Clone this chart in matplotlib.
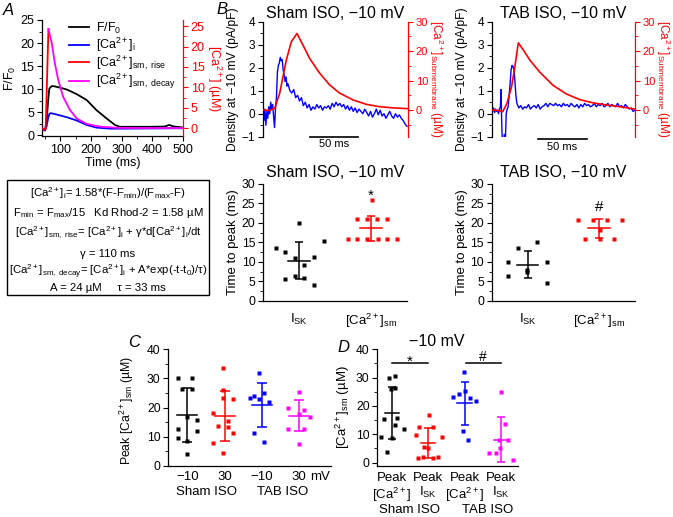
import matplotlib
matplotlib.use("Agg")
import matplotlib.pyplot as plt
from matplotlib.ticker import MultipleLocator
from matplotlib.patches import Rectangle

plt.rcParams['font.family'] = ['Liberation Sans', 'DejaVu Sans']
plt.rcParams['mathtext.fontset'] = 'custom'
plt.rcParams['mathtext.rm'] = 'Liberation Sans'
plt.rcParams['mathtext.it'] = 'Liberation Sans:italic'
plt.rcParams['mathtext.bf'] = 'Liberation Sans:bold'
plt.rcParams['axes.linewidth'] = 0.9
plt.rcParams['xtick.major.size'] = 3.5
plt.rcParams['ytick.major.size'] = 3.5
plt.rcParams['xtick.minor.size'] = 2
plt.rcParams['ytick.minor.size'] = 2
plt.rcParams['xtick.major.pad'] = 2
plt.rcParams['ytick.major.pad'] = 2

RED = '#ff0000'
BLUE = '#0000ff'
MAG = '#ff00ff'

# ---- panel A: F/F0 and derived [Ca2+] traces ----
a_t_ff0 = [40, 45, 50, 55, 60, 64, 72, 80, 93, 121, 153, 186, 218, 251, 278, 294, 338, 392, 440, 455, 468, 499]
a_ff0 = [1.46, 1.3, 1.1, 3.0, 7.5, 10.1, 10.65, 10.6, 10.4, 9.9, 8.9, 7.6, 5.4, 3.6, 2.2, 1.8, 1.8, 1.8, 1.85, 2.2, 1.9, 1.65]
a_t_cai = [40, 50, 55, 60, 64, 68, 80, 93, 121, 153, 186, 218, 262, 300, 400, 500]
a_cai = [0.0, -0.6, 0.5, 2.5, 3.5, 3.7, 3.5, 3.25, 2.7, 1.9, 0.8, 0.15, -0.1, -0.1, -0.05, 0.0]
a_t_rise = [40, 46, 49, 52, 61]
a_rise = [0.0, -0.2, -0.4, 0.0, 24.3]
a_t_decay = [61, 72, 82, 93, 109, 131, 153, 186, 229, 284, 350, 500]
a_decay = [24.3, 20.8, 15.9, 11.8, 7.7, 4.5, 2.4, 1.05, 0.4, 0.1, 0.05, 0.05]

box_lines = [
    '[Ca$^{2+}$]$_{\\rm i}$= 1.58*(F-F$_{\\rm min}$)/(F$_{\\rm max}$-F)',
    'F$_{\\rm min}$ = F$_{\\rm max}$/15   Kd Rhod-2 = 1.58 µM',
    '[Ca$^{2+}$]$_{\\rm sm,\\ rise}$= [Ca$^{2+}$]$_{\\rm i}$ + γ*d[Ca$^{2+}$]$_{\\rm i}$/dt',
    'γ = 110 ms',
    '[Ca$^{2+}$]$_{\\rm sm,\\ decay}$= [Ca$^{2+}$]$_{\\rm i}$ + A*exp(-t-t$_{\\rm 0}$)/τ)',
    'A = 24 µM     τ = 33 ms',
]

# ---- panel B: I_SK density (blue) and submembrane Ca (red) ----
sham_t_isk = [0, 1, 2, 3, 4, 5, 6, 7, 8, 9, 10, 11, 12, 13, 14, 15, 16, 17, 18, 19, 20, 21, 22, 23, 24, 25, 26,
              28, 30, 32, 34, 36, 38, 40, 42, 44, 46, 48, 50, 52, 54, 56, 58, 60, 62, 64, 66, 68, 70, 72, 74, 76,
              78, 80, 82, 84, 86, 88, 90, 92, 94, 96, 98, 100, 102, 104, 106, 108, 110, 112, 114, 116, 118, 120,
              122, 124, 126, 128, 130, 132, 134, 136, 138, 140, 142, 144, 146, 148, 150]
sham_isk = [0.1, -0.3, 0.2, -0.5, 0.1, -0.2, 0.3, 0.0, 0.5, 0.2, 0.4, -0.1, -0.6, 0.2, 0.7, 1.8, 2.1, 2.2, 2.45,
            2.3, 2.35, 1.9, 1.7, 1.4, 1.6, 1.2, 1.3, 1.0, 0.9, 1.05, 0.7, 0.8, 0.55, 0.7, 0.35, 0.5, 0.25, 0.4,
            0.15, 0.3, 0.2, 0.4, 0.25, 0.35, 0.15, 0.3, 0.25, 0.35, 0.2, 0.45, 0.3, 0.5, 0.35, 0.45, 0.3, 0.4,
            0.2, 0.35, 0.15, 0.3, 0.1, 0.25, 0.05, 0.2, 0.1, 0.0, 0.2, 0.05, -0.1, 0.1, -0.15, 0.0, 0.2, -0.05,
            0.15, -0.1, 0.0, -0.2, -0.05, 0.1, -0.1, -0.2, 0.0, -0.15, -0.05, -0.2, -0.3, -0.45, -0.55]
sham_t_ca = [0, 6.9, 12.2, 17.4, 24.3, 29.5, 35.4, 41.7, 48.6, 59, 69.4, 79.9, 93.8, 107.6, 121.5, 135.4, 150.3]
sham_ca = [0.0, -0.2, 0.6, 5.7, 17.0, 23.2, 26.0, 22.0, 17.5, 12.5, 8.5, 5.7, 3.4, 1.9, 1.1, 0.7, 0.45]

tab_t_isk = [0, 1, 2, 3, 4, 5, 6, 7, 8, 9, 9.6, 10.3, 11, 12, 13, 14, 15, 16, 17, 18, 19, 20, 21, 22, 23, 24, 25,
             26, 27, 28, 30, 32, 34, 36, 38, 40, 42, 44, 46, 48, 50, 52, 54, 56, 58, 60, 62, 64, 66, 68, 70, 72,
             74, 76, 78, 80, 82, 84, 86, 88, 90, 92, 94, 96, 98, 100, 102, 104, 106, 108, 110, 112, 114, 116, 118,
             120, 122, 124, 126, 128, 130, 132, 134, 136, 138, 140, 142, 144, 146, 148]
tab_isk = [0.2, 0.1, 0.25, 0.05, 0.2, 0.1, 0.15, 0.0, 0.2, 0.3, 1.05, -0.3, -1.3, -1.3, -0.9, -1.3, 0.0, 0.2, 0.3,
           0.8, 1.3, 1.9, 2.1, 2.05, 1.9, 1.4, 0.8, 0.45, 0.35, 0.25, 0.35, 0.2, 0.3, 0.25, 0.4, 0.2, 0.3, 0.35,
           0.25, 0.4, 0.2, 0.3, 0.35, 0.45, 0.3, 0.45, 0.4, 0.35, 0.45, 0.35, 0.4, 0.3, 0.45, 0.35, 0.4, 0.3,
           0.45, 0.35, 0.3, 0.4, 0.25, 0.4, 0.3, 0.45, 0.35, 0.4, 0.3, 0.35, 0.45, 0.3, 0.4, 0.35, 0.45, 0.3,
           0.35, 0.45, 0.3, 0.4, 0.35, 0.3, 0.45, 0.3, 0.35, 0.25, 0.4, 0.3, 0.2, 0.25, 0.1, 0.15]
tab_t_ca = [0, 6.9, 11.3, 15.5, 20.6, 24, 27.5, 32.6, 39.5, 49.8, 63.6, 77.3, 91, 104.8, 118.6, 132.3, 147.8]
tab_ca = [0.0, -0.2, -0.6, 2.0, 8.0, 14.9, 22.8, 20.4, 16.9, 12.8, 8.3, 5.4, 3.5, 2.4, 1.7, 1.1, 0.3]

# time to peak (ms)
sham_ttp_isk_x = [0.676, 0.806, 1.004, 0.944, 1.074, 1.208, 0.806, 0.944, 1.074, 1.208, 1.347]
sham_ttp_isk = [13.45, 12.6, 19.9, 11.1, 9.2, 11.3, 5.7, 6.3, 5.9, 4.0, 15.3]
sham_ttp_ca_x = [1.676, 1.801, 1.94, 2.101, 2.218, 2.357, 1.801, 1.94, 2.079, 2.218, 2.01]
sham_ttp_ca = [15.85, 15.85, 15.85, 15.85, 15.85, 15.85, 20.9, 20.9, 20.9, 20.9, 25.9]
sham_ttp_mean = [10.3, 18.6]
sham_ttp_sd = [4.8, 3.3]
tab_ttp_isk_x = [0.732, 0.863, 1.128, 0.732, 0.997, 0.997, 1.267, 1.267]
tab_ttp_isk = [10.0, 13.5, 15.0, 6.4, 8.0, 7.3, 10.0, 4.5]
tab_ttp_ca_x = [1.699, 1.908, 2.104, 2.313, 1.806, 2.01, 2.21, 2.01]
tab_ttp_ca = [20.7, 20.7, 20.7, 20.7, 15.8, 15.8, 15.8, 18.3]
tab_ttp_mean = [9.3, 18.6]
tab_ttp_sd = [3.5, 2.5]

# ---- panel C: peak [Ca2+]sm at -10 and 30 mV ----
c_x = [
    [0.743, 1.134, 0.866, 1.134, 1.0, 1.252, 0.743, 1.252, 0.743, 1.0, 1.0],
    [1.965, 1.965, 1.965, 2.233, 1.699, 2.1, 1.831, 2.1, 2.233, 1.699, 1.965],
    [2.93, 2.681, 2.788, 3.064, 2.93, 3.198, 2.788, 3.064],
    [3.98, 3.7, 4.13, 4.0, 4.28, 3.7, 4.13, 3.98],
]
c_y = [
    [30.3, 30.3, 26.2, 26.2, 16.6, 15.7, 12.6, 11.9, 9.6, 8.5, 4.0],
    [33.7, 26.0, 23.2, 22.8, 18.2, 15.5, 13.6, 13.4, 11.1, 7.7, 4.5],
    [31.7, 23.2, 24.0, 24.9, 22.9, 21.8, 11.3, 8.3],
    [25.3, 19.9, 19.0, 17.8, 16.7, 12.6, 12.6, 7.6],
]
c_mean = [17.3, 17.1, 20.9, 17.2]
c_sd = [9.3, 8.7, 7.6, 5.4]
c_ticks = ['−10', '30', '−10', '30']

# ---- panel D: peak [Ca2+]sm vs value at I_SK peak ----
d_x = [
    [0.706, 0.788, 0.879, 0.934, 1.091, 0.973, 1.091, 1.091, 1.154, 1.338, 1.0],
    [1.668, 1.759, 2.015, 2.143, 2.374, 1.887, 2.006, 1.852, 1.714, 2.143, 2.28],
    [2.693, 2.849, 2.995, 3.014, 3.151, 3.316, 2.95, 3.105],
    [4.003, 4.113, 4.204, 3.948, 3.68, 3.865, 3.99, 4.341],
]
d_y = [
    [9.2, 15.3, 3.9, 30.0, 30.4, 26.0, 26.2, 13.3, 15.6, 11.9, 8.6],
    [9.8, 12.4, 16.8, 12.4, 8.9, 5.6, 5.3, 2.1, 1.5, 1.5, 2.1],
    [23.3, 24.1, 31.9, 25.3, 22.7, 21.9, 11.3, 8.0],
    [24.8, 13.6, 8.1, 8.0, 3.3, 3.5, 5.3, 0.9],
]
d_mean = [17.4, 6.8, 20.9, 8.1]
d_sd = [9.2, 5.3, 7.6, 7.9]
d_ticks = ['Peak\n[Ca$^{2+}$]', 'Peak\nI$_{\\rm SK}$', 'Peak\n[Ca$^{2+}$]', 'Peak\nI$_{\\rm SK}$']

group_colors = ['black', RED, BLUE, MAG]

W, H = 673, 517
fig = plt.figure(figsize=(W / 100, H / 100), dpi=100)


def px_axes(x0, y0, x1, y1):
    return fig.add_axes([x0 / W, 1 - y1 / H, (x1 - x0) / W, (y1 - y0) / H])


def ftext(x, y, s, **kw):
    fig.text(x / W, 1 - y / H, s, **kw)


def dots(ax, xs, ys, mean, sd, center, color, half_mean, cap):
    ax.plot(xs, ys, 's', color=color, ms=3.3, mec='none', clip_on=False)
    ax.plot([center - half_mean, center + half_mean], [mean, mean], color=color, lw=1.1)
    ax.errorbar([center], [mean], yerr=[sd], color=color, lw=1.1, capsize=cap, capthick=1.1, fmt='none')


# ---------------- A ----------------
axA = px_axes(42, 20, 183, 136)
axA2 = axA.twinx()
lb, = axA.plot(a_t_ff0, a_ff0, color='black', lw=1.3)
l1, = axA2.plot(a_t_cai, a_cai, color=BLUE, lw=1.3)
l2, = axA2.plot(a_t_rise, a_rise, color=RED, lw=1.3)
l3, = axA2.plot(a_t_decay, a_decay, color=MAG, lw=1.3)
axA.set_xlim(40, 500)
axA.set_ylim(-0.2, 25)
axA2.set_ylim(-1.9, 26.5)
axA.set_xticks([100, 200, 300, 400, 500])
axA.xaxis.set_minor_locator(MultipleLocator(50))
axA.yaxis.set_major_locator(MultipleLocator(5))
axA.yaxis.set_minor_locator(MultipleLocator(2.5))
axA2.yaxis.set_major_locator(MultipleLocator(5))
axA2.yaxis.set_minor_locator(MultipleLocator(2.5))
axA.spines['top'].set_visible(False)
axA.spines['right'].set_visible(False)
for s in ['top', 'left', 'bottom']:
    axA2.spines[s].set_visible(False)
axA2.spines['right'].set_color(RED)
axA2.tick_params(axis='y', which='both', colors=RED, labelsize=9)
axA.tick_params(labelsize=9)
axA.set_xlabel('Time (ms)', fontsize=9, labelpad=1)
axA.set_ylabel('F/F$_0$', fontsize=9, labelpad=2)
axA2.set_ylabel('[Ca$^{2+}$] (µM)', fontsize=9, color=RED, rotation=-90, va='bottom', labelpad=0)
axA2.legend([lb, l1, l2, l3],
            ['F/F$_0$', '[Ca$^{2+}$]$_{\\rm i}$', '[Ca$^{2+}$]$_{\\rm sm,\\ rise}$',
             '[Ca$^{2+}$]$_{\\rm sm,\\ decay}$'],
            loc='upper left', bbox_to_anchor=(0.19, 0.995), frameon=False, fontsize=9,
            handlelength=1.6, handletextpad=0.6, labelspacing=0.0, borderpad=0, borderaxespad=0)

fig.add_artist(Rectangle((7 / W, 1 - 295 / H), 202 / W, 115 / H, transform=fig.transFigure,
                         fill=False, lw=1.0, ec='black'))
for yy, s in zip([192.7, 213.3, 233.3, 254, 271.7, 288.3], box_lines):
    ftext(108, yy, s, ha='center', va='center', fontsize=8.2)


# ---------------- B traces ----------------
def trace_panel(x0, x1, t_b, v_b, t_r, v_r, xmax, title, bar_t0, bar_y):
    ax = px_axes(x0, 21.7, x1, 136.7)
    ax.plot(t_b, v_b, color=BLUE, lw=1.0)
    ax.set_xlim(0, xmax)
    ax.set_ylim(-1, 4)
    ax.yaxis.set_major_locator(MultipleLocator(1))
    ax.yaxis.set_minor_locator(MultipleLocator(0.5))
    ax.set_xticks([])
    for s in ['top', 'bottom', 'right']:
        ax.spines[s].set_visible(False)
    ax.tick_params(labelsize=8.5)
    ax.set_ylabel('Density at −10 mV (pA/pF)', fontsize=8.7, labelpad=2)
    ax.set_title(title, fontsize=11.5, pad=3)
    tw = ax.twinx()
    tw.plot(t_r, v_r, color=RED, lw=1.2)
    tw.set_xlim(0, xmax)
    tw.set_ylim(-9.1, 30)
    tw.yaxis.set_major_locator(MultipleLocator(10))
    tw.yaxis.set_minor_locator(MultipleLocator(5))
    for s in ['top', 'bottom', 'left']:
        tw.spines[s].set_visible(False)
    tw.spines['right'].set_color(RED)
    tw.tick_params(axis='y', which='both', colors=RED, labelsize=8)
    tw.set_ylabel('[Ca$^{2+}$]$_{\\rm Submembrane}$ (µM)', fontsize=8.5, color=RED,
                  rotation=-90, va='bottom', labelpad=-1)
    ax.plot([bar_t0, bar_t0 + 50], [bar_y, bar_y], color='black', lw=1.2, clip_on=False)
    ax.text(bar_t0 + 25, bar_y - 0.12, '50 ms', ha='center', va='top', fontsize=8)
    return ax


trace_panel(263, 408, sham_t_isk, sham_isk, sham_t_ca, sham_ca, 151, 'Sham ISO, −10 mV', 49, -1.0)
trace_panel(491.7, 635, tab_t_isk, tab_isk, tab_t_ca, tab_ca, 148, 'TAB ISO, −10 mV', 48, -1.12)


# ---------------- B time to peak ----------------
def ttp_panel(x0, x1, xi, yi, xc, yc, means, sds, title, mark, mark_y):
    ax = px_axes(x0, 184, x1, 300.7)
    dots(ax, xi, yi, means[0], sds[0], 1.0, 'black', 0.15, 3.2)
    dots(ax, xc, yc, means[1], sds[1], 2.0, RED, 0.15, 3.2)
    ax.set_xlim(0.5, 2.5)
    ax.set_ylim(0, 30)
    ax.yaxis.set_major_locator(MultipleLocator(5))
    ax.yaxis.set_minor_locator(MultipleLocator(2.5))
    ax.set_xticks([1, 2])
    ax.set_xticklabels(['I$_{\\rm SK}$', '[Ca$^{2+}$]$_{\\rm sm}$'])
    ax.tick_params(axis='x', length=0, pad=8, labelsize=9.5)
    ax.tick_params(axis='y', labelsize=8.7)
    for s in ['top', 'right']:
        ax.spines[s].set_visible(False)
    ax.set_ylabel('Time to peak (ms)', fontsize=9.5, labelpad=2)
    ax.set_title(title, fontsize=11.5, pad=5)
    ax.text(2.0, mark_y, mark, ha='center', va='baseline', fontsize=11)


ttp_panel(263, 407, sham_ttp_isk_x, sham_ttp_isk, sham_ttp_ca_x, sham_ttp_ca, sham_ttp_mean, sham_ttp_sd,
          'Sham ISO, −10 mV', '*', 26.0)
ttp_panel(491.7, 635, tab_ttp_isk_x, tab_ttp_isk, tab_ttp_ca_x, tab_ttp_ca, tab_ttp_mean, tab_ttp_sd,
          'TAB ISO, −10 mV', '#', 23.0)

# ---------------- C ----------------
axC = px_axes(168.3, 349.3, 331, 465.7)
for i in range(4):
    dots(axC, c_x[i], c_y[i], c_mean[i], c_sd[i], i + 1, group_colors[i], 0.27, 3.6)
axC.set_xlim(0.49, 4.85)
axC.set_ylim(0, 40)
axC.yaxis.set_major_locator(MultipleLocator(10))
axC.yaxis.set_minor_locator(MultipleLocator(5))
axC.set_xticks([1, 2, 3, 4])
axC.set_xticklabels(c_ticks)
axC.tick_params(axis='x', length=0, pad=4, labelsize=9.5)
axC.tick_params(axis='y', labelsize=8.7)
for s in ['top', 'right']:
    axC.spines[s].set_visible(False)
axC.set_ylabel('Peak [Ca$^{2+}$]$_{\\rm sm}$ (µM)', fontsize=8.8, labelpad=3)
axC.yaxis.set_label_coords(-0.2, 0.47)
axC.text(4.28, -0.048, 'mV', transform=axC.get_xaxis_transform(), ha='left', va='top', fontsize=9.5)
ftext(206.7, 492.3, 'Sham ISO', ha='center', va='center', fontsize=9.5)
ftext(283, 492.3, 'TAB ISO', ha='center', va='center', fontsize=9.5)

# ---------------- D ----------------
axD = px_axes(377.3, 349.3, 518.3, 466)
for i in range(4):
    dots(axD, d_x[i], d_y[i], d_mean[i], d_sd[i], i + 1, group_colors[i], 0.2, 3.2)
axD.set_xlim(0.6, 4.48)
axD.set_ylim(-1.2, 40)
axD.yaxis.set_major_locator(MultipleLocator(10))
axD.yaxis.set_minor_locator(MultipleLocator(5))
axD.set_xticks([1, 2, 3, 4])
axD.set_xticklabels(d_ticks, linespacing=1.15)
axD.tick_params(axis='x', length=0, pad=4, labelsize=9.5)
axD.tick_params(axis='y', labelsize=8.7)
for s in ['top', 'right']:
    axD.spines[s].set_visible(False)
axD.set_ylabel('[Ca$^{2+}$]$_{\\rm sm}$ (µM)', fontsize=9.5, labelpad=3)
axD.plot([1.0, 1.99], [35.3, 35.3], color='black', lw=1.1)
axD.plot([3.03, 4.0], [35.0, 35.0], color='black', lw=1.1)
axD.text(1.5, 34.1, '*', ha='center', va='baseline', fontsize=11)
axD.text(3.5, 35.7, '#', ha='center', va='baseline', fontsize=10)
ftext(436.7, 341, '−10 mV', ha='center', va='center', fontsize=11.5)
ftext(410, 510, 'Sham ISO', ha='center', va='center', fontsize=9.5)
ftext(488, 510, 'TAB ISO', ha='center', va='center', fontsize=9.5)

# panel letters
ftext(3, 3, 'A', ha='left', va='top', fontsize=12, style='italic')
ftext(216, 2, 'B', ha='left', va='top', fontsize=12, style='italic')
ftext(128, 335, 'C', ha='left', va='top', fontsize=12, style='italic')
ftext(337, 340, 'D', ha='left', va='top', fontsize=12, style='italic')

fig.savefig('out.png', dpi=100)
